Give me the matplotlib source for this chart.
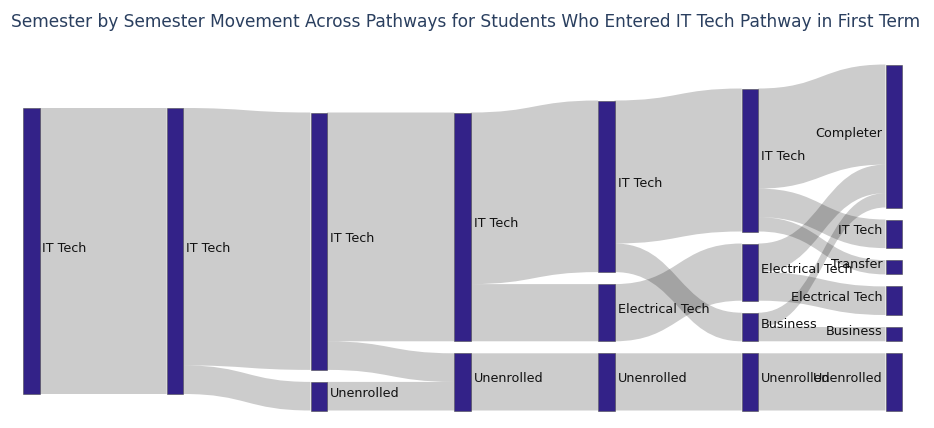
import matplotlib
matplotlib.use("Agg")
import matplotlib.pyplot as plt
from matplotlib.path import Path
from matplotlib.patches import PathPatch, Rectangle

# ---------------- data ----------------
title = "Semester by Semester Movement Across Pathways for Students Who Entered IT Tech Pathway in First Term"

node_labels = ["IT Tech",
               "IT Tech",
               "IT Tech", "Unenrolled",
               "IT Tech", "Unenrolled",
               "IT Tech", "Electrical Tech", "Unenrolled",
               "IT Tech", "Electrical Tech", "Business", "Unenrolled",
               "Completer", "IT Tech", "Transfer", "Electrical Tech", "Business", "Unenrolled"]
node_term = [0,
             1,
             2, 2,
             3, 3,
             4, 4, 4,
             5, 5, 5, 5,
             6, 6, 6, 6, 6, 6]

link_source = [0, 1, 1, 2, 2, 3, 4, 4, 5, 6, 6, 7, 8, 9, 9, 9, 10, 10, 11, 11, 12]
link_target = [1, 2, 3, 4, 5, 5, 6, 7, 8, 9, 11, 10, 12, 13, 14, 15, 13, 16, 13, 17, 18]
link_value  = [20, 18, 2, 16, 2, 2, 12, 4, 4, 10, 2, 4, 4, 7, 2, 1, 2, 2, 1, 1, 4]

# ---------------- style / layout ----------------
W, H = 934, 428
NODE_COLOR = "#332288"
LINK_COLOR = (0, 0, 0, 0.2)
TITLE_COLOR = "#2a3f5f"
plot_top, plot_bottom = 64.5, 410.5
pad = 12.0
nodew = 16.5
x_first, x_last_right = 23.0, 902.0
col_top_override = {0: 108.0, 1: 108.0}

fig = plt.figure(figsize=(W / 100, H / 100), dpi=100)
ax = fig.add_axes([0, 0, 1, 1])
ax.set_xlim(0, W)
ax.set_ylim(H, 0)
ax.axis("off")

n = len(node_labels)
in_v = [0] * n
out_v = [0] * n
for s, t, v in zip(link_source, link_target, link_value):
    out_v[s] += v
    in_v[t] += v
node_v = [max(a, b) for a, b in zip(in_v, out_v)]
ncols = max(node_term) + 1
col_x = [x_first + c * (x_last_right - nodew - x_first) / (ncols - 1) for c in range(ncols)]
cols = [[i for i in range(n) if node_term[i] == c] for c in range(ncols)]
ky = min((plot_bottom - plot_top - pad * (len(m) - 1)) / sum(node_v[i] for i in m) for m in cols)

y0 = [0.0] * n
y1 = [0.0] * n
for c, members in enumerate(cols):
    total = sum(node_v[i] for i in members) * ky + pad * (len(members) - 1)
    y = col_top_override.get(c, plot_bottom - total)
    for i in members:
        y0[i] = y
        y1[i] = y + node_v[i] * ky
        y = y1[i] + pad

L = range(len(link_value))
sy, ty = {}, {}
for i in range(n):
    outs = sorted([l for l in L if link_source[l] == i], key=lambda l: y0[link_target[l]])
    y = y0[i]
    for l in outs:
        sy[l] = y
        y += link_value[l] * ky
    ins = sorted([l for l in L if link_target[l] == i], key=lambda l: y0[link_source[l]])
    y = y0[i]
    for l in ins:
        ty[l] = y
        y += link_value[l] * ky

for l in L:
    s, t = link_source[l], link_target[l]
    xs = col_x[node_term[s]] + nodew
    xt = col_x[node_term[t]]
    xm = (xs + xt) / 2
    h = link_value[l] * ky
    a, b = sy[l], ty[l]
    verts = [(xs, a), (xm, a), (xm, b), (xt, b),
             (xt, b + h), (xm, b + h), (xm, a + h), (xs, a + h), (xs, a)]
    codes = [Path.MOVETO, Path.CURVE4, Path.CURVE4, Path.CURVE4,
             Path.LINETO, Path.CURVE4, Path.CURVE4, Path.CURVE4, Path.CLOSEPOLY]
    ax.add_patch(PathPatch(Path(verts, codes), facecolor=LINK_COLOR, edgecolor="none", lw=0, zorder=1))

for i in range(n):
    x = col_x[node_term[i]]
    ax.add_patch(Rectangle((x, y0[i]), nodew, y1[i] - y0[i], facecolor=NODE_COLOR,
                           edgecolor="#444444", lw=0.36, zorder=2))
    yc = (y0[i] + y1[i]) / 2 + 0.5
    if node_term[i] < ncols - 1:
        ax.text(x + nodew + 3, yc, node_labels[i], ha="left", va="baseline",
                fontsize=9.2, family="DejaVu Sans", color="#111111", zorder=3)
    else:
        ax.text(x - 3, yc, node_labels[i], ha="right", va="baseline",
                fontsize=9.2, family="DejaVu Sans", color="#111111", zorder=3)

ax.text(11, 26.5, title, ha="left", va="baseline", fontsize=12.25, family="DejaVu Sans",
        color=TITLE_COLOR)

fig.savefig("out.png", dpi=100, facecolor="white")
